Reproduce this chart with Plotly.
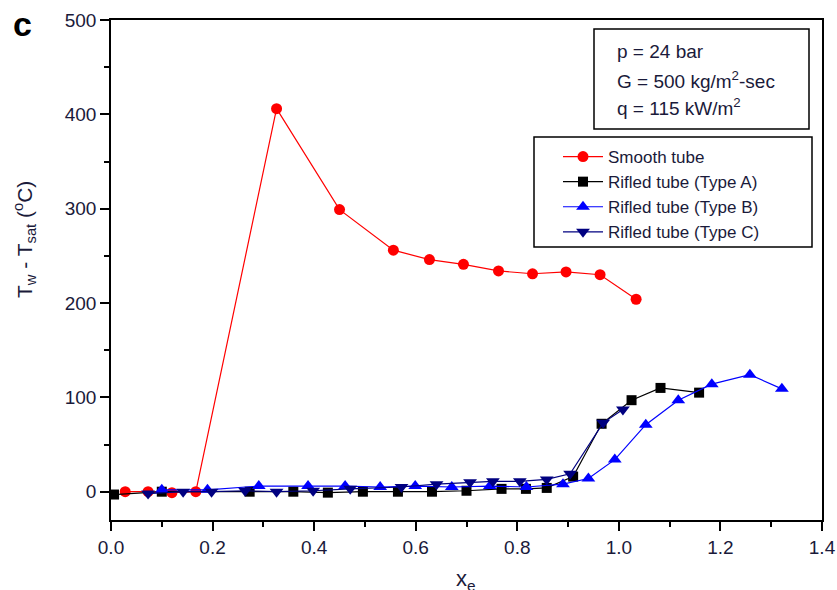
import plotly.graph_objects as go

# Smooth tube
smooth_x = [0.028, 0.073, 0.12, 0.167, 0.326, 0.450, 0.556, 0.627, 0.694, 0.763, 0.830, 0.896, 0.963, 1.034]
smooth_y = [0, 0, -1, 0, 406, 299, 256, 246, 241, 234, 231, 233, 230, 204]

# Rifled tube (Type A)
a_x = [0.006, 0.10, 0.273, 0.359, 0.427, 0.496, 0.565, 0.632, 0.700, 0.769, 0.817, 0.858, 0.910, 0.966, 1.025, 1.082, 1.158]
a_y = [-3, 0, 0, 0, -1, 0, 0, 0, 1, 3, 3, 4, 16, 72, 97, 110, 105]

# Rifled tube (Type B)
b_x = [0.10, 0.19, 0.291, 0.388, 0.461, 0.530, 0.599, 0.671, 0.746, 0.818, 0.890, 0.940, 0.992, 1.053, 1.117, 1.183, 1.258, 1.321]
b_y = [2, 2, 6, 6, 6, 5, 6, 5, 6, 5, 8, 14, 34, 71, 97, 114, 124, 109]

# Rifled tube (Type C)
c_x = [0.073, 0.142, 0.198, 0.264, 0.326, 0.398, 0.471, 0.572, 0.641, 0.707, 0.752, 0.805, 0.858, 0.904, 0.969, 1.008]
c_y = [-2, 0, 0, 1, 0, 1, 3, 5, 8, 10, 11, 11, 13, 19, 73, 87]

x_ticks = [0.0, 0.2, 0.4, 0.6, 0.8, 1.0, 1.2, 1.4]
y_ticks = [0, 100, 200, 300, 400, 500]

FONT = "Arial, Liberation Sans, sans-serif"
TXT = "#1a1a3a"

# plot area in pixels: left 111, right 822, top 20, bottom 520
L, R, T, B = 111, 822, 20, 520
def px(x):
    return (x - L) / (R - L)
def py(y):
    return (B - y) / (B - T)

fig = go.Figure()
fig.add_trace(go.Scatter(x=smooth_x, y=smooth_y, mode="lines+markers", name="Smooth tube",
                         line=dict(color="#ff0000", width=1.2),
                         marker=dict(symbol="circle", size=11, color="#ff0000")))
fig.add_trace(go.Scatter(x=a_x, y=a_y, mode="lines+markers", name="Rifled tube (Type A)",
                         line=dict(color="#000000", width=1.2),
                         marker=dict(symbol="square", size=10, color="#000000")))
fig.add_trace(go.Scatter(x=b_x, y=b_y, mode="lines+markers", name="Rifled tube (Type B)",
                         line=dict(color="#0000ff", width=1.2),
                         marker=dict(symbol="triangle-up", size=12, color="#0000ff")))
fig.add_trace(go.Scatter(x=c_x, y=c_y, mode="lines+markers", name="Rifled tube (Type C)",
                         line=dict(color="#000080", width=1.2),
                         marker=dict(symbol="triangle-down", size=12, color="#000080")))

axis_common = dict(showgrid=False, zeroline=False, showline=True, linecolor="black", linewidth=1.5,
                   mirror=True, ticks="outside", tickcolor="black", ticklen=9, tickwidth=1.5,
                   automargin=False,
                   tickfont=dict(family=FONT, size=19, color=TXT))

fig.update_xaxes(range=[0, 1.4], tickvals=x_ticks, ticktext=[f"{v:.1f}" for v in x_ticks],
                 minor=dict(dtick=0.1, ticks="outside", ticklen=5, tickcolor="black", tickwidth=1.5),
                 **axis_common)
fig.update_yaxes(range=[-30, 500], tickvals=y_ticks, ticktext=[str(v) for v in y_ticks],
                 minor=dict(dtick=50, ticks="outside", ticklen=5, tickcolor="black", tickwidth=1.5),
                 **axis_common)

# axis titles
fig.add_annotation(text="x<sub>e</sub>", xref="paper", yref="paper", x=px(466), y=py(580),
                   xanchor="center", yanchor="middle", showarrow=False,
                   font=dict(family=FONT, size=22, color=TXT))
fig.add_annotation(text="T<sub>w</sub> - T<sub>sat</sub> (<sup>o</sup>C)", xref="paper", yref="paper",
                   x=px(25), y=py(240), xanchor="center", yanchor="middle", showarrow=False,
                   textangle=-90, font=dict(family=FONT, size=21, color=TXT))

# info box
fig.add_shape(type="rect", xref="paper", yref="paper", x0=px(594), x1=px(809), y0=py(129), y1=py(29),
              line=dict(color="black", width=1.5), fillcolor="white", layer="above")
info_lines = ["p = 24 bar", "G = 500 kg/m<sup>2</sup>-sec", "q = 115 kW/m<sup>2</sup>"]
info_y = [52, 80, 107]
for txt, yy in zip(info_lines, info_y):
    fig.add_annotation(text=txt, xref="paper", yref="paper", x=px(615), y=py(yy),
                       xanchor="left", yanchor="middle", showarrow=False,
                       font=dict(family=FONT, size=19, color=TXT))

# legend frame
fig.add_shape(type="rect", xref="paper", yref="paper", x0=px(534), x1=px(812), y0=py(247), y1=py(137),
              line=dict(color="black", width=1.5), fillcolor="white", layer="above")

fig.add_annotation(text="<b>c</b>", xref="paper", yref="paper", x=px(22), y=py(24),
                   xanchor="center", yanchor="middle", showarrow=False,
                   font=dict(family=FONT, size=34, color="black"))

fig.update_layout(
    width=837, height=590,
    margin=dict(l=L, r=837 - R, t=T, b=590 - B),
    plot_bgcolor="white", paper_bgcolor="white",
    font=dict(family=FONT, color="black"),
    legend=dict(x=px(558), y=py(139), xanchor="left", yanchor="top",
                borderwidth=0, bgcolor="rgba(0,0,0,0)",
                font=dict(family=FONT, size=17, color=TXT),
                tracegroupgap=0, itemwidth=40),
    showlegend=True,
)

fig.write_html("out.html")
